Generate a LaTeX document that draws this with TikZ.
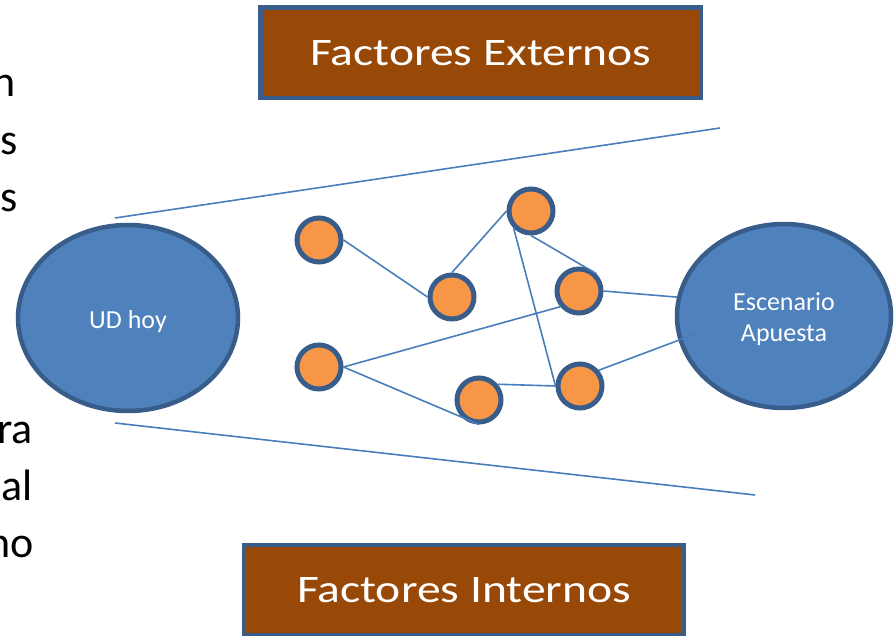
\documentclass[tikz,border=0pt]{standalone}
\usepackage{fontspec}
\setmainfont{Carlito}
\newfontfamily\boxfont[FakeStretch=1.22]{Carlito}
\usetikzlibrary{shapes.geometric}
\definecolor{ellfill}{HTML}{4F81BD}
\definecolor{ellline}{HTML}{385D8A}
\definecolor{dotfill}{HTML}{F79646}
\definecolor{edgecol}{HTML}{4A7EBB}
\definecolor{boxfill}{HTML}{984807}
\newcommand{\lowertxt}[2]{\raisebox{-#1}[\height][\depth]{#2}}
\tikzset{
  bigell/.style={ellipse, draw=ellline, fill=ellfill, line width=4.5pt, inner sep=0pt, text=white, font=\fontsize{26}{31}\selectfont, align=center},
  dot/.style={circle, draw=ellline, fill=dotfill, line width=5pt, minimum size=44pt, inner sep=0pt},
  link/.style={draw=edgecol, line width=1.6pt},
  factbox/.style={rectangle, draw=ellline, fill=boxfill, line width=4.5pt, inner sep=0pt, text=white, font=\boxfont\fontsize{39}{44}\selectfont},
  sidetxt/.style={anchor=base east, inner sep=0pt, font=\fontsize{44}{50}\selectfont}
}
\begin{document}
\begin{tikzpicture}[x=1pt, y=-1pt]
\useasboundingbox (0,0) rectangle (894,636);
\begin{scope}
\clip (0,0) rectangle (894,636);
% side text fragments
\node[sidetxt] (t1) at (16,97) {n};
\node[sidetxt] (t2) at (18,155) {s};
\node[sidetxt] (t3) at (18,212) {s};
\node[sidetxt] (t4) at (33,443) {ra};
\node[sidetxt] (t5) at (33,500) {al};
\node[sidetxt] (t6) at (34,557) {no};
% boxes
\node[factbox, minimum width=440.5pt, minimum height=90.5pt] (ext) at (480.75,52.75) {Factores Externos};
\node[factbox, minimum width=440pt, minimum height=90pt] (int) at (464,590) {Factores Internos};
% ellipses
\node[bigell, minimum width=220pt, minimum height=186pt] (ud) at (128,318) {\lowertxt{4pt}{UD hoy}};
\node[bigell, minimum width=214pt, minimum height=184pt] (esc) at (784,316) {\lowertxt{3pt}{Escenario}\\\lowertxt{3pt}{Apuesta}};
% funnel lines
\coordinate (f1) at (115,218);
\coordinate (f2) at (720,128);
\coordinate (f3) at (115,423);
\coordinate (f4) at (755,495);
\draw[link] (f1) -- (f2);
\draw[link] (f3) -- (f4);
% dots
\node[dot] (c1) at (319,240) {};
\node[dot] (c2) at (452,297) {};
\node[dot] (c3) at (531,211) {};
\node[dot] (c4) at (579,291) {};
\node[dot] (c5) at (319,367) {};
\node[dot] (c6) at (479,400) {};
\node[dot] (c7) at (580,386) {};
\coordinate (e2) at (698,333);
% links
\draw[link] (c1.east) -- (c2.west);
\draw[link] (c2.north) -- (c3.west);
\draw[link] (c3.225) -- (c7.west);
\draw[link] (c3.south) -- (c4.45);
\draw[link] (c4.east) -- (esc.170);
\draw[link] (c4.220) -- (c5.east);
\draw[link] (c5.east) -- (c6.south);
\draw[link] (c6.40) -- (c7.west);
\draw[link] (c7.40) -- (e2);
\end{scope}
\end{tikzpicture}
\end{document}
